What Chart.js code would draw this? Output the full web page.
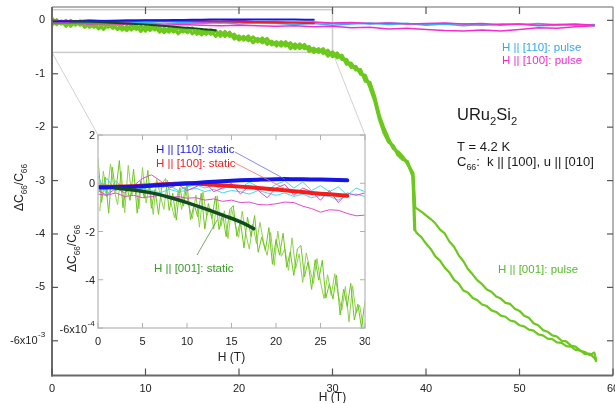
<!DOCTYPE html>
<html><head><meta charset="utf-8">
<script src="https://cdn.jsdelivr.net/npm/chart.js@4.4.1/dist/chart.umd.min.js"></script>
<style>
html,body{margin:0;padding:0;background:#fff;}
#wrap{position:relative;width:615px;height:403px;overflow:hidden;}
#main{position:absolute;left:0;top:0;width:615px;height:403px;}
#inset{position:absolute;left:56px;top:125px;width:314px;height:243px;}
</style></head><body>
<div id="wrap"><canvas id="main" width="615" height="403"></canvas><canvas id="inset" width="314" height="243"></canvas></div>
<script>
// ---------- DATA (main panel, units 1e-3) ----------
const mainH = [0,0.5,1,1.5,2,2.5,3,3.5,4,4.5,5,5.5,6,6.5,7,7.5,8,8.5,9,9.5,10,10.5,11,11.5,12,12.5,13,13.5,14,14.5,15,15.5,16,16.5,17,17.5,18,18.5,19,19.5,20,20.5,21,21.5,22,22.5,23,23.5,24,24.5,25,25.5,26,26.5,27,27.5,28,28.5,29,29.5,30,30.5,31,31.5,32,32.5,33,33.5,34,34.5,35,35.5,36,36.5,37,37.5,38,38.6,38.8,39,39.5,40,40.5,41,41.5,42,42.5,43,43.5,44,44.5,45,45.5,46,46.5,47,47.5,48,48.5,49,49.5,50,50.5,51,51.5,52,52.5,53,53.5,54,54.5,55,55.5,56,56.5,57,57.5,58,58.2];
const pulse001A = [0.04,-0.08,-0.01,-0.11,0.00,-0.09,-0.01,-0.13,-0.06,-0.13,-0.05,-0.17,-0.08,-0.15,-0.06,-0.18,-0.11,-0.18,-0.09,-0.21,-0.11,-0.19,-0.10,-0.22,-0.15,-0.22,-0.13,-0.25,-0.16,-0.23,-0.14,-0.26,-0.19,-0.26,-0.18,-0.30,-0.21,-0.30,-0.22,-0.35,-0.29,-0.37,-0.29,-0.42,-0.34,-0.42,-0.34,-0.46,-0.40,-0.48,-0.40,-0.53,-0.44,-0.53,-0.45,-0.58,-0.52,-0.60,-0.53,-0.67,-0.59,-0.70,-0.65,-0.82,-0.80,-0.93,-0.92,-1.14,-1.16,
 -1.42,-1.78,-2.02,-2.22,-2.40,-2.46,-2.55,-2.68,-2.86,-3.50,
 -3.52,-3.58,-3.65,-3.72,-3.80,-3.92,-3.99,-4.14,-4.24,-4.40,-4.51,-4.66,-4.76,-4.87,-4.94,-5.04,-5.08,-5.17,-5.21,-5.29,-5.31,-5.40,-5.44,-5.53,-5.57,-5.67,-5.71,-5.80,-5.83,-5.90,-5.92,-6.00,-6.01,-6.09,-6.11,-6.19,-6.21,-6.27,-6.22,-6.36];
const pulse001B = [-0.09,0.01,-0.07,0.00,-0.11,-0.02,-0.09,-0.02,-0.13,-0.06,-0.16,-0.07,-0.13,-0.07,-0.17,-0.11,-0.19,-0.09,-0.17,-0.11,-0.20,-0.10,-0.18,-0.13,-0.23,-0.15,-0.22,-0.14,-0.22,-0.14,-0.25,-0.19,-0.27,-0.18,-0.26,-0.19,-0.30,-0.21,-0.30,-0.26,-0.37,-0.30,-0.38,-0.31,-0.40,-0.33,-0.45,-0.39,-0.48,-0.40,-0.48,-0.42,-0.53,-0.44,-0.53,-0.49,-0.60,-0.53,-0.62,-0.56,-0.68,-0.61,-0.73,-0.73,-0.88,-0.86,-1.01,-1.03,-1.25,
 -1.50,-1.84,-2.10,-2.28,-2.35,-2.52,-2.60,-2.64,-2.92,-3.92,
 -3.98,-4.06,-4.18,-4.28,-4.42,-4.50,-4.63,-4.72,-4.86,-4.93,-5.06,-5.10,-5.20,-5.24,-5.32,-5.35,-5.43,-5.46,-5.53,-5.55,-5.62,-5.64,-5.71,-5.73,-5.79,-5.81,-5.88,-5.90,-5.96,-5.97,-6.03,-6.04,-6.10,-6.11,-6.17,-6.18,-6.25,-6.24,-6.32,-6.38];
const pulseH = [0,2,4,6,8,10,12,14,16,18,20,22,24,26,28,30,32,34,36,38,40,42,44,46,48,50,52,54,56,58];
const pulse110A = [-0.02,-0.04,-0.03,-0.05,-0.03,-0.04,-0.02,-0.04,-0.03,-0.05,-0.03,-0.04,-0.05,-0.03,-0.04,-0.06,-0.05,-0.07,-0.05,-0.06,-0.08,-0.06,-0.07,-0.09,-0.07,-0.08,-0.06,-0.08,-0.09,-0.08];
const pulse110B = [-0.05,-0.03,-0.06,-0.04,-0.06,-0.05,-0.07,-0.05,-0.06,-0.04,-0.07,-0.05,-0.06,-0.08,-0.06,-0.09,-0.07,-0.05,-0.08,-0.06,-0.09,-0.07,-0.10,-0.08,-0.09,-0.07,-0.10,-0.09,-0.08,-0.10];
const pulse100A = [0.00,-0.02,0.01,-0.01,-0.03,0.00,-0.02,-0.01,-0.03,-0.02,0.00,-0.03,-0.02,-0.04,-0.03,-0.05,-0.04,-0.06,-0.05,-0.07,-0.06,-0.05,-0.07,-0.06,-0.08,-0.07,-0.09,-0.08,-0.07,-0.09];
const pulse100B = [-0.06,-0.05,-0.07,-0.06,-0.08,-0.07,-0.09,-0.08,-0.09,-0.10,-0.09,-0.10,-0.11,-0.10,-0.12,-0.11,-0.14,-0.13,-0.16,-0.15,-0.17,-0.19,-0.20,-0.18,-0.20,-0.17,-0.14,-0.15,-0.12,-0.10];

// ---------- DATA (inset, units 1e-4) ----------
const staticH = [0,2,4,6,8,10,12,14,16,18,20,22,24,26,28];
const static110 = [-0.18,-0.17,-0.14,-0.10,-0.05,-0.01,0.04,0.08,0.12,0.15,0.17,0.17,0.16,0.14,0.12];
const static100 = [-0.15,-0.14,-0.12,-0.08,-0.03,0.00,-0.04,-0.09,-0.14,-0.20,-0.26,-0.33,-0.40,-0.46,-0.52];
const static001H = [2,4,6,8,10,12,14,16,17.5];
const static001 = [-0.20,-0.28,-0.40,-0.58,-0.80,-1.05,-1.32,-1.60,-1.88];
const insetGA_H = [0,0.4,0.8,1.2,1.6,2,2.4,2.8,3.2,3.6,4,4.4,4.8,5.2,5.6,6,6.4,6.8,7.2,7.6,8,8.4,8.8,9.2,9.6,10,10.4,10.8,11.2,11.6,12,12.4,12.8,13.2,13.6,14,14.4,14.8,15.2,15.6,16,16.4,16.8,17.2,17.6,18,18.4,18.8,19.2,19.6,20,20.4,20.8,21.2,21.6,22,22.4,22.8,23.2,23.6,24,24.4,24.8,25.2,25.6,26,26.4,26.8,27.2,27.6,28,28.4,28.8,29.2,29.6,30];
const insetGA = [1.01,-0.79,0.26,-1.24,0.67,-0.34,0.94,-1.01,-0.08,-0.71,0.58,-1.24,0.10,-0.62,0.53,-1.04,-0.26,-1.29,0.00,0.19,-1.13,-0.41,-1.53,-0.18,-0.95,-0.03,-1.52,-0.86,-1.39,-0.41,-1.90,-0.84,-1.47,-0.53,-1.92,-1.26,-2.22,-1.09,-0.93,-2.20,-1.56,-2.68,-1.41,-2.21,-1.34,-2.86,-2.23,-2.79,-1.84,-3.36,-2.33,-2.98,-2.07,-3.48,-2.85,-3.82,-2.72,-2.58,-3.88,-3.26,-4.40,-3.17,-4.02,-3.19,-4.76,-4.17,-4.80,-3.81,-5.46,-4.39,-5.11,-4.15,-5.67,-5.01,-5.98,-4.89];
const insetGB_H = [0.2,0.6,1,1.4,1.8,2.2,2.6,3,3.4,3.8,4.2,4.6,5,5.4,5.8,6.2,6.6,7,7.4,7.8,8.2,8.6,9,9.4,9.8,10.2,10.6,11,11.4,11.8,12.2,12.6,13,13.4,13.8,14.2,14.6,15,15.4,15.8,16.2,16.6,17,17.4,17.8,18.2,18.6,19,19.4,19.8,20.2,20.6,21,21.4,21.8,22.2,22.6,23,23.4,23.8,24.2,24.6,25,25.4,25.8,26.2,26.6,27,27.4,27.8,28.2,28.6,29,29.4,29.8];
const insetGB = [-1.15,0.50,-0.56,0.80,-0.23,-0.89,0.49,-1.22,0.74,-0.51,-0.04,-1.06,0.65,-0.82,-0.01,-1.29,0.16,-0.51,-1.08,0.13,-0.81,-1.44,-0.31,-1.09,-0.17,-0.94,-1.47,-0.49,-1.82,-0.36,-1.37,-1.03,-1.90,-0.52,-1.79,-1.14,-2.29,-1.05,-1.68,-2.24,-1.16,-2.08,-2.73,-1.69,-2.50,-1.62,-2.43,-2.99,-2.04,-3.41,-1.98,-3.03,-2.72,-3.61,-2.26,-3.55,-2.93,-4.11,-2.89,-3.55,-4.15,-3.12,-4.09,-4.78,-3.79,-4.65,-3.75,-4.64,-5.27,-4.28,-5.75,-4.25,-5.38,-5.06,-5.98];
const insetH = [0,1,2,3,4,5,6,7,8,9,10,11,12,13,14,15,16,17,18,19,20,21,22,23,24,25,26,27,28,29,30];
const inset110A = [0.30,-0.50,0.10,-0.30,-0.10,-0.25,-0.05,-0.20,-0.10,-0.30,-0.15,-0.05,-0.20,-0.10,-0.25,-0.05,-0.20,0.05,-0.15,-0.30,-0.05,0.10,-0.20,0.05,-0.30,-0.10,-0.35,-0.15,-0.50,-0.20,-0.35];
const inset110B = [-0.40,0.20,-0.30,-0.15,-0.35,-0.20,-0.30,-0.40,-0.25,-0.35,-0.30,-0.20,-0.35,-0.25,-0.40,-0.30,-0.35,-0.45,-0.30,-0.40,-0.50,-0.40,-0.55,-0.45,-0.60,-0.50,-0.55,-0.70,-0.50,-0.45,-0.55];
const inset100A = [-0.30,-0.50,-0.20,-0.40,-0.10,0.20,0.35,0.10,-0.20,-0.05,-0.30,-0.15,0.05,-0.35,-0.20,0.00,-0.45,-0.10,-0.30,-0.60,-0.20,-0.05,-0.50,-0.20,-0.35,-0.70,-0.30,-0.80,-0.40,-0.50,-0.40];
const inset100B = [-0.45,-0.50,-0.40,-0.55,-0.50,-0.60,-0.55,-0.50,-0.60,-0.55,-0.62,-0.60,-0.70,-0.65,-0.75,-0.70,-0.80,-0.78,-0.88,-0.90,-0.85,-0.78,-0.80,-0.95,-1.05,-1.20,-1.10,-1.12,-1.25,-1.35,-1.32];

const mainXTicks = [0,10,20,30,40,50,60];
const mainYTicks = [-6,-5,-4,-3,-2,-1,0];
const insetXTicks = [0,5,10,15,20,25,30];
const insetYTicks = [-6,-4,-2,0,2];
const zoomBox = {hMin:0, hMax:30, vMin:-0.6, vMax:0.2}; // inset range shown in main units (1e-3)
const BAND_END = 79; // index where the two sweeps of [001] pulse separate

// ---------- STYLE ----------
const FONT = "'Liberation Sans', Arial, Helvetica, sans-serif";
Chart.defaults.font.family = FONT;
const C = {
  green:'#6cc81c', green2:'#92d050', cyan:'#30b4f4', mag:'#f52ccb',
  icyan:'#3cdcf0', imag:'#e04cc8', blue:'#1515e8', red:'#f51c1c', dkgreen:'#114d1c'
};
const TXT = '#222';
const pts = (xs, ys, k=1) => xs.map((x,i)=>({x, y: ys[i]*k}));
const ds = (data, color, w, extra={}) => Object.assign({data, borderColor:color, backgroundColor:color, borderWidth:w, pointRadius:0, fill:false, tension:0, borderJoinStyle:'round', borderCapStyle:'round'}, extra);
// Chart.js paints dataset 0 last (on top); list back-to-front and reverse
const stack = list => list.slice().reverse();

function rich(ctx, segs, x, y, size, color, align='left') {
  ctx.save(); ctx.fillStyle = color; ctx.textBaseline = 'alphabetic'; ctx.textAlign='left';
  let w = 0;
  const parts = segs.map(([t,k]) => { const s = k ? size*0.68 : size; ctx.font = s+'px '+FONT; const mw = ctx.measureText(t).width; w += mw; return {t,k,s,mw}; });
  let cx = align==='center' ? x - w/2 : align==='right' ? x - w : x;
  for (const p of parts) {
    ctx.font = p.s+'px '+FONT;
    const dy = p.k===1 ? size*0.3 : p.k===2 ? -size*0.45 : 0;
    ctx.fillText(p.t, cx, y + dy); cx += p.mw;
  }
  ctx.restore();
}
function seg(ctx,x1,y1,x2,y2){ctx.beginPath();ctx.moveTo(x1,y1);ctx.lineTo(x2,y2);ctx.stroke();}
function label(ctx, t, x, y, align, size=11){ctx.fillStyle=TXT; ctx.font=size+'px '+FONT; ctx.textAlign=align; ctx.textBaseline='middle'; ctx.fillText(t,x,y);}
const yTitle = [['ΔC',0],['66',1],['/C',0],['66',1]];
const hiddenScale = (min,max) => ({type:'linear', min, max, display:false});

// ---------- INSET ----------
const INSET_OFF = {x:56, y:125};
const insetDecor = {
  id:'insetDecor',
  beforeDraw(chart){ const {ctx, chartArea:a} = chart; ctx.save(); ctx.fillStyle='#fff'; ctx.fillRect(a.left,a.top,a.right-a.left,a.bottom-a.top); ctx.restore(); },
  afterDraw(chart){
    const {ctx, chartArea:a, scales:{x,y}} = chart;
    ctx.save();
    ctx.strokeStyle='#c4c4c4'; ctx.lineWidth=1.5; ctx.strokeRect(a.left,a.top,a.right-a.left,a.bottom-a.top);
    ctx.strokeStyle='#b0b0b0'; ctx.lineWidth=1;
    insetXTicks.forEach(v=>{const p=x.getPixelForValue(v); seg(ctx,p,a.bottom,p,a.bottom-5); seg(ctx,p,a.top,p,a.top+5); label(ctx,String(v),p,a.bottom+14,'center');});
    insetYTicks.forEach(v=>{const p=y.getPixelForValue(v); seg(ctx,a.left,p,a.left+5,p); seg(ctx,a.right,p,a.right-5,p); if(v!==-6) label(ctx,String(v),a.left-3,p+1,'right');});
    const p6 = y.getPixelForValue(-6);
    label(ctx,'-6x10',a.left-11,p6+2,'right');
    ctx.font='8px '+FONT; ctx.textAlign='left'; ctx.fillText('-4', a.left-10.5, p6-4);
    label(ctx,'H (T)',(a.left+a.right)/2,a.bottom+30,'center',12);
    ctx.save(); ctx.translate(20, 123.5); ctx.rotate(-Math.PI/2); rich(ctx, yTitle, 0, 0, 12, TXT, 'center'); ctx.restore();
    rich(ctx, [['H || [110]: static',0]], 100, 28, 11.5, '#1a1ae6');
    rich(ctx, [['H || [100]: static',0]], 100, 42, 11.5, '#f02020');
    rich(ctx, [['H || [001]: static',0]], 98, 147, 11.5, '#3c9a2c');
    ctx.lineWidth=0.8;
    ctx.strokeStyle='#6a6af0'; seg(ctx,179,27,x.getPixelForValue(21),y.getPixelForValue(0.17));
    ctx.strokeStyle='#f07070'; seg(ctx,179,38,x.getPixelForValue(21),y.getPixelForValue(-0.22));
    ctx.strokeStyle='#4a9a3a'; seg(ctx,141,130,x.getPixelForValue(13.4),y.getPixelForValue(-1.52));
    ctx.restore();
  }
};
const insetChart = new Chart(document.getElementById('inset'), {
  type:'line',
  data:{datasets: stack([
    ds(pts(insetGB_H, insetGB), C.green2, 1),
    ds(pts(insetGA_H, insetGA), C.green, 1),
    ds(pts(insetH, inset110B), C.icyan, 1),
    ds(pts(insetH, inset110A), C.icyan, 1),
    ds(pts(insetH, inset100B), C.imag, 1),
    ds(pts(insetH, inset100A), C.imag, 1),
    ds(pts(staticH, static100), C.red, 4, {tension:0.4}),
    ds(pts(staticH, static110), C.blue, 4, {tension:0.4}),
    ds(pts(static001H, static001), C.dkgreen, 3.5, {tension:0.4}),
  ])},
  options:{
    responsive:false, animation:false, events:[],
    layout:{padding:{top:10,right:5,left:42,bottom:40}},
    plugins:{legend:{display:false}, tooltip:{enabled:false}},
    scales:{ x: hiddenScale(0,30), y: hiddenScale(-6,2) }
  },
  plugins:[insetDecor]
});

// ---------- MAIN ----------
const mainDecor = {
  id:'mainDecor',
  beforeDatasetsDraw(chart){
    const {ctx, scales:{x,y}} = chart;
    const x0=x.getPixelForValue(zoomBox.hMin), x1=x.getPixelForValue(zoomBox.hMax);
    const y0=y.getPixelForValue(zoomBox.vMax), y1=y.getPixelForValue(zoomBox.vMin);
    ctx.save(); ctx.strokeStyle='#cccccc'; ctx.lineWidth=1.5; ctx.strokeRect(x0,y0,x1-x0,y1-y0);
    const ia = insetChart.chartArea;
    ctx.lineWidth=1; ctx.strokeStyle='#d0d0d0';
    seg(ctx,x0,y1,INSET_OFF.x+ia.left,INSET_OFF.y+ia.top);
    seg(ctx,x1,y1,INSET_OFF.x+ia.right,INSET_OFF.y+ia.top);
    ctx.restore();
  },
  afterDraw(chart){
    const {ctx, chartArea:a, scales:{x,y}} = chart;
    ctx.save();
    ctx.strokeStyle='#9a9a9a'; ctx.lineWidth=1.5;
    seg(ctx,a.left,a.top,a.right,a.top); seg(ctx,a.right,a.top,a.right,a.bottom);
    ctx.strokeStyle='#6a6a6a'; ctx.lineWidth=2;
    seg(ctx,a.left,a.top,a.left,a.bottom+1); seg(ctx,a.left-1,a.bottom,a.right,a.bottom);
    ctx.strokeStyle='#555'; ctx.lineWidth=1.2;
    mainXTicks.forEach(v=>{const p=x.getPixelForValue(v); seg(ctx,p,a.bottom,p,a.bottom-7); if(v>0&&v<60) seg(ctx,p,a.top,p,a.top+7); label(ctx,String(v),p,a.bottom+13,'center');});
    mainYTicks.forEach(v=>{const p=y.getPixelForValue(v); seg(ctx,a.left,p,a.left+6,p); seg(ctx,a.right,p,a.right-6,p); if(v!==-6) label(ctx,String(v),a.left-7,p,'right');});
    const p6=y.getPixelForValue(-6);
    label(ctx,'-6x10',37.5,p6,'right');
    ctx.font='8px '+FONT; ctx.textAlign='left'; ctx.fillText('-3', 38, p6-6);
    label(ctx,'H (T)',(a.left+a.right)/2,a.bottom+22.5,'center',12);
    ctx.save(); ctx.translate(23, 187.5); ctx.rotate(-Math.PI/2); rich(ctx, yTitle, 0, 0, 12, TXT, 'center'); ctx.restore();
    rich(ctx, [['H || [110]: pulse',0]], 502, 50.5, 11.5, '#2eaaf0');
    rich(ctx, [['H || [100]: pulse',0]], 502, 63.5, 11.5, '#f02cc8');
    rich(ctx, [['URu',0],['2',1],['Si',0],['2',1]], 457, 120, 16.5, '#1a1a1a');
    rich(ctx, [['T = 4.2 K',0]], 457, 150.5, 13, '#1a1a1a');
    rich(ctx, [['C',0],['66',1],[':  k || [100], u || [010]',0]], 457, 166, 13, '#1a1a1a');
    rich(ctx, [['H || [001]: pulse',0]], 498, 272.5, 11.5, '#5ab82a');
    ctx.restore();
  }
};
const gA = pts(mainH, pulse001A), gB = pts(mainH, pulse001B);
new Chart(document.getElementById('main'), {
  type:'line',
  data:{datasets: stack([
    ds(gB.slice(0, BAND_END), C.green, 3.2),
    ds(gA.slice(0, BAND_END), C.green, 3.2),
    ds(gB.slice(BAND_END-1), C.green, 2.2),
    ds(gA.slice(BAND_END-1), C.green, 2.2),
    ds(pts(pulseH, pulse110B), C.cyan, 1.5),
    ds(pts(pulseH, pulse110A), C.cyan, 1.5),
    ds(pts(pulseH, pulse100B), C.mag, 1.5),
    ds(pts(pulseH, pulse100A), C.mag, 1.5),
    ds(pts(staticH, static100, 0.1), C.red, 2, {tension:0.4}),
    ds(pts(staticH, static110, 0.1), C.blue, 2, {tension:0.4}),
    ds(pts(static001H, static001, 0.1), C.dkgreen, 2, {tension:0.4}),
  ])},
  options:{
    responsive:false, animation:false, events:[],
    layout:{padding:{top:7,right:2,left:52,bottom:27.5}},
    plugins:{legend:{display:false}, tooltip:{enabled:false}},
    scales:{ x: hiddenScale(0,60), y: hiddenScale(-6.65,0.25) }
  },
  plugins:[mainDecor]
});
</script>
</body></html>
